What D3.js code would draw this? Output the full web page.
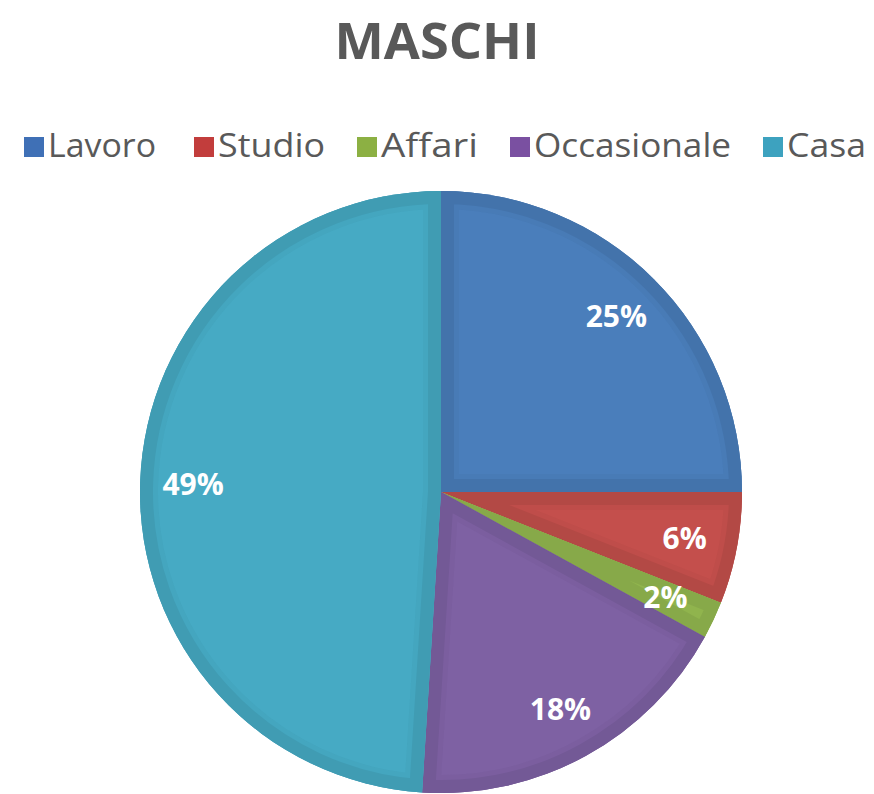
<!DOCTYPE html>
<html>
<head>
<meta charset="utf-8">
<script src="https://cdn.jsdelivr.net/npm/d3@7"></script>
<style>
  body { margin: 0; background: #fff; }
  svg { display: block; }
</style>
</head>
<body>
<div id="chart"></div>
<script>
// data
var categories = ["Lavoro", "Studio", "Affari", "Occasionale", "Casa"];
var values = [25, 6, 2, 18, 49];
var colors = ["#4A7EBB", "#C44F4C", "#94B94F", "#7E61A3", "#46AAC4"];
var swatchColors = ["#3F70B6", "#C23D3C", "#8CB043", "#7A50A1", "#3DA2BF"];
var title = "MASCHI";

var width = 874, height = 794;
var cx = 441, cy = 492, radius = 301;

var svg = d3.select("#chart")
  .append("svg")
  .attr("width", width)
  .attr("height", height);

// title
svg.append("text")
  .attr("x", 437)
  .attr("y", 59)
  .attr("text-anchor", "middle")
  .attr("font-family", "Open Sans")
  .attr("font-weight", "bold")
  .attr("font-size", 51)
  .attr("textLength", 205)
  .attr("lengthAdjust", "spacingAndGlyphs")
  .attr("fill", "#595959")
  .text(title);

// legend
var legendX = [24, 194, 357, 510, 763];   // swatch left edges
var legendW = [108, 107, 97, 197, 79];    // text widths
var legend = svg.append("g").attr("class", "legend");
var items = legend.selectAll("g")
  .data(categories)
  .enter()
  .append("g")
  .attr("transform", function(d, i) { return "translate(" + legendX[i] + ",137)"; });

items.append("rect")
  .attr("width", 20)
  .attr("height", 20)
  .attr("fill", function(d, i) { return swatchColors[i]; });

items.append("text")
  .attr("x", 24)
  .attr("y", 20)
  .attr("font-family", "Open Sans")
  .attr("font-size", 32)
  .attr("textLength", function(d, i) { return legendW[i]; })
  .attr("lengthAdjust", "spacingAndGlyphs")
  .attr("fill", "#595959")
  .text(function(d) { return d; });

// pie
var pie = d3.pie().sort(null).value(function(d) { return d; });
var arcs = pie(values);
var arc = d3.arc().innerRadius(0).outerRadius(radius);
var labelArc = d3.arc().innerRadius(248).outerRadius(248);

var g = svg.append("g").attr("transform", "translate(" + cx + "," + cy + ")");
var defs = svg.append("defs");

defs.selectAll("clipPath")
  .data(arcs)
  .enter()
  .append("clipPath")
  .attr("id", function(d, i) { return "clip" + i; })
  .append("path")
  .attr("d", arc);

var slices = g.selectAll("g.slice")
  .data(arcs)
  .enter()
  .append("g")
  .attr("class", "slice");

// base fill
slices.append("path")
  .attr("d", arc)
  .attr("fill", function(d, i) { return colors[i]; });

// darker bevel band along the edges of each slice
slices.append("path")
  .attr("d", arc)
  .attr("clip-path", function(d, i) { return "url(#clip" + i + ")"; })
  .attr("fill", "none")
  .attr("stroke", function(d, i) { return d3.color(colors[i]).darker(0.35); })
  .attr("stroke-width", 26)
  .attr("stroke-linejoin", "round");

slices.append("path")
  .attr("d", arc)
  .attr("clip-path", function(d, i) { return "url(#clip" + i + ")"; })
  .attr("fill", "none")
  .attr("stroke", function(d, i) { return d3.color(colors[i]).darker(0.15); })
  .attr("stroke-width", 36)
  .attr("stroke-opacity", 0.5)
  .attr("stroke-linejoin", "round");

// labels
g.selectAll("text.label")
  .data(arcs)
  .enter()
  .append("text")
  .attr("class", "label")
  .attr("transform", function(d) { return "translate(" + labelArc.centroid(d) + ")"; })
  .attr("dy", "0.36em")
  .attr("text-anchor", "middle")
  .attr("font-family", "Open Sans")
  .attr("font-weight", "bold")
  .attr("font-size", 30)
  .attr("fill", "#fff")
  .text(function(d) { return d.data + "%"; });
</script>
</body>
</html>
